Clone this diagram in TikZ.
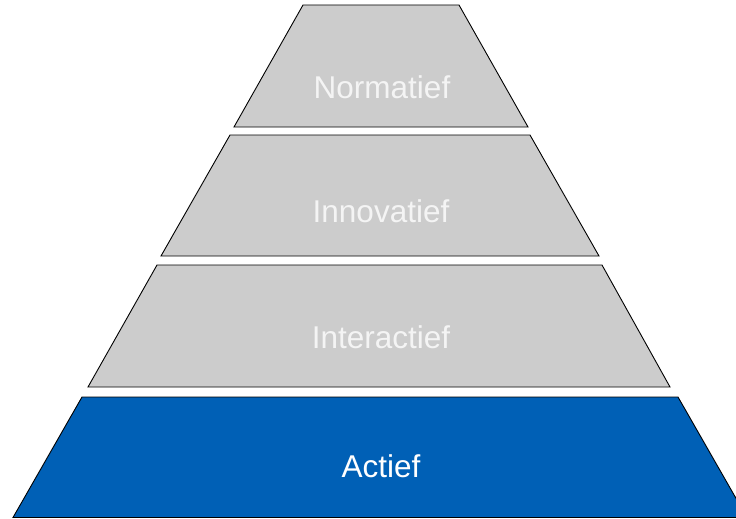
\documentclass[tikz,border=0pt]{standalone}
\usepackage{fontspec}
\setmainfont{Liberation Sans}
\definecolor{layergrey}{HTML}{CCCCCC}
\definecolor{layerblue}{HTML}{0060B6}
\definecolor{greytext}{HTML}{F4F4F4}
\begin{document}
\begin{tikzpicture}[x=1pt,y=-1pt,
  layer/.style={draw=black,line width=0.9pt,line join=miter},
  greylayer/.style={layer,fill=layergrey},
  bluelayer/.style={layer,fill=layerblue},
  lbl/.style={font=\fontsize{31.5}{38}\selectfont,inner sep=0pt}]
\clip (0,0) rectangle (736,519);
% layer 1
\draw[greylayer] (303,5) -- (459,5) -- (528,127) -- (234,127) -- cycle;
% layer 2
\draw[greylayer] (230,135) -- (530,135) -- (599,256) -- (161,256) -- cycle;
% layer 3
\draw[greylayer] (157,265) -- (602,265) -- (670,387) -- (88,387) -- cycle;
% layer 4
\draw[bluelayer] (82,397) -- (678,397) -- (747,517.5) -- (13,517.5) -- cycle;
\node[lbl,text=greytext,anchor=base] (normatief) at (382,99) {Normatief};
\node[lbl,text=greytext,anchor=base] (innovatief) at (381,222) {Innovatief};
\node[lbl,text=greytext,anchor=base] (interactief) at (381,348) {Interactief};
\node[lbl,text=white,anchor=base] (actief) at (381,477) {Actief};
\end{tikzpicture}
\end{document}
